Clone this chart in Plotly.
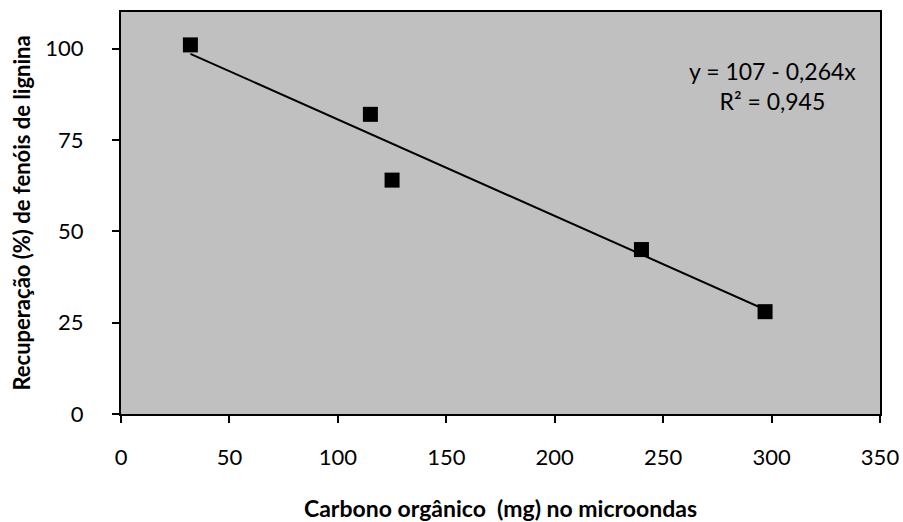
import plotly.graph_objects as go

# Organic carbon loaded in the microwave (mg) and lignin phenol recovery (%)
carbono_mg = [32, 115, 125, 240, 297]
recuperacao_pct = [101, 82, 64, 45, 28]

# Linear fit reported on the chart
intercepto = 107
inclinacao = -0.264
r2 = 0.945

x_ticks = [0, 50, 100, 150, 200, 250, 300, 350]
y_ticks = [0, 25, 50, 75, 100]

x_fit = [min(carbono_mg), max(carbono_mg)]
y_fit = [intercepto + inclinacao * x for x in x_fit]

font_family = "Lato, 'Open Sans', sans-serif"

fig = go.Figure()
fig.add_trace(go.Scatter(
    x=x_fit, y=y_fit, mode="lines",
    line=dict(color="black", width=2),
    hoverinfo="skip", showlegend=False,
))
fig.add_trace(go.Scatter(
    x=carbono_mg, y=recuperacao_pct, mode="markers",
    marker=dict(symbol="square", size=15, color="black",
                line=dict(color="black", width=0)),
    showlegend=False,
))

eq_text = (f"y = {intercepto} - {abs(inclinacao):.3f}x".replace(".", ",")
           + "<br>" + f"R² = {r2:.3f}".replace(".", ","))
fig.add_annotation(
    x=0.858, y=0.815, xref="paper", yref="paper",
    text=eq_text, showarrow=False, align="center",
    xanchor="center", yanchor="middle",
    font=dict(family=font_family, size=23, color="black"),
)

axis_common = dict(
    showgrid=False, zeroline=False, automargin=False,
    showline=True, linecolor="black", linewidth=2, mirror=True,
    ticks="outside", ticklen=7, tickwidth=2, tickcolor="black",
    tickfont=dict(family=font_family, size=22, color="black"),
)

fig.update_layout(
    width=903, height=522,
    margin=dict(l=121, r=23, t=12, b=108),
    paper_bgcolor="white",
    plot_bgcolor="#C0C0C0",
    xaxis=dict(
        range=[0, 350], tickvals=x_ticks, ticklabelstandoff=16,
        title=dict(text="<b>Carbono orgânico  (mg) no microondas</b>",
                   font=dict(family=font_family, size=23, color="black"),
                   standoff=34),
        **axis_common,
    ),
    yaxis=dict(
        range=[0, 110], tickvals=y_ticks, ticklabelstandoff=24,
        title=dict(text="<b>Recuperação (%) de fenóis de lignina</b>",
                   font=dict(family=font_family, size=22, color="black"),
                   standoff=9),
        **axis_common,
    ),
)

fig.write_html("out.html")
